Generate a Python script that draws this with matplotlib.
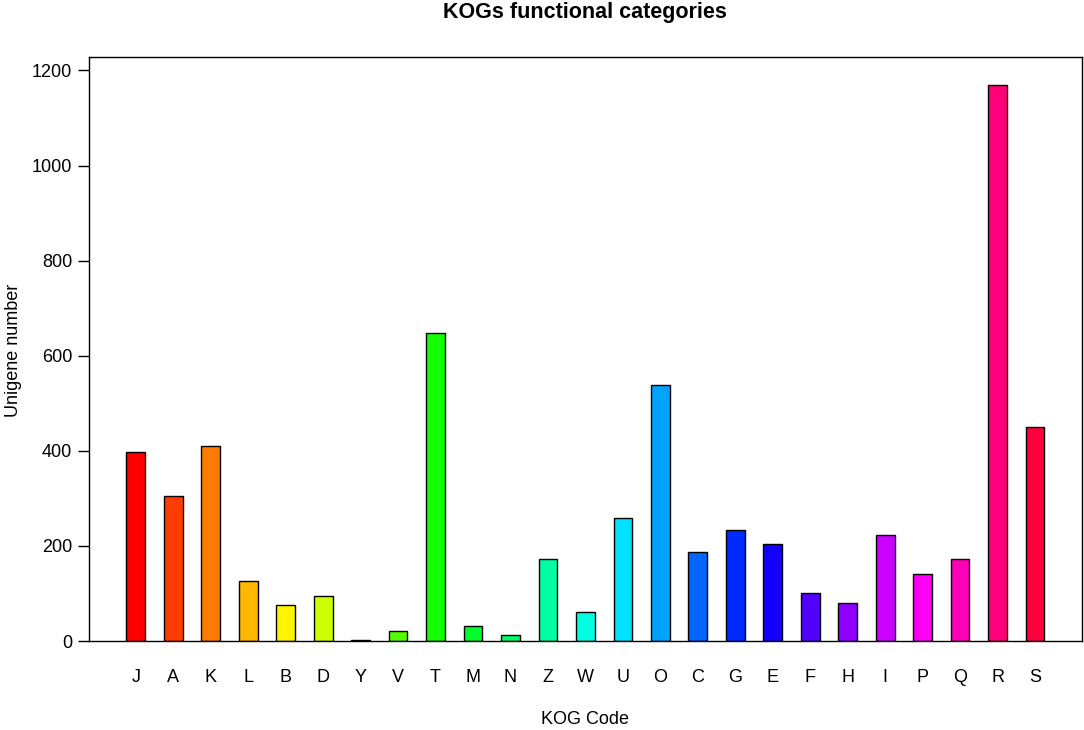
import numpy as np
import matplotlib
matplotlib.use('Agg')
import matplotlib.pyplot as plt
from matplotlib.colors import hsv_to_rgb

plt.rcParams['font.family'] = ['Liberation Sans', 'DejaVu Sans']

# KOG 类别及数量
kog_codes = ['J', 'A', 'K', 'L', 'B', 'D', 'Y', 'V', 'T', 'M', 'N', 'Z', 'W',
             'U', 'O', 'C', 'G', 'E', 'F', 'H', 'I', 'P', 'Q', 'R', 'S']
unigene_counts = [398, 304, 411, 127, 76, 95, 2, 22, 648, 32, 12, 172, 62,
                  259, 538, 187, 234, 203, 100, 80, 223, 141, 173, 1170, 451]
y_ticks = [0, 200, 400, 600, 800, 1000, 1200]

n = len(kog_codes)
# R 的 rainbow(n) 配色
colors = [hsv_to_rgb((i / n, 1.0, 1.0)) for i in range(n)]

fig = plt.figure(figsize=(10.84, 7.30), dpi=100)
ax = fig.add_axes([0.0821, 0.1219, 0.9159, 0.8001])

x = np.arange(n)
ax.bar(x, unigene_counts, width=0.5, color=colors, edgecolor='black', linewidth=1.0)

ax.set_xlim(-1.25, n - 1 + 1.25)
ax.set_ylim(0, max(unigene_counts) * 1.05)

ax.set_xticks(x)
ax.set_xticklabels(kog_codes, fontsize=13)
ax.tick_params(axis='x', length=0, pad=20)
ax.set_yticks(y_ticks)
ax.set_yticklabels([str(v) for v in y_ticks], fontsize=13)
ax.tick_params(axis='y', length=8, width=1, pad=4)

for sp in ax.spines.values():
    sp.set_linewidth(1.0)
    sp.set_color('black')

# 坐标轴名称和标题
fig.text(0.54, 0.014, 'KOG Code', ha='center', va='center', fontsize=13)
fig.text(0.012, 0.52, 'Unigene number', ha='center', va='center',
         rotation=90, fontsize=13)
fig.text(0.54, 0.983, 'KOGs functional categories', ha='center', va='center',
         fontsize=15.5, fontweight='bold')

plt.savefig('out.png', dpi=100)
